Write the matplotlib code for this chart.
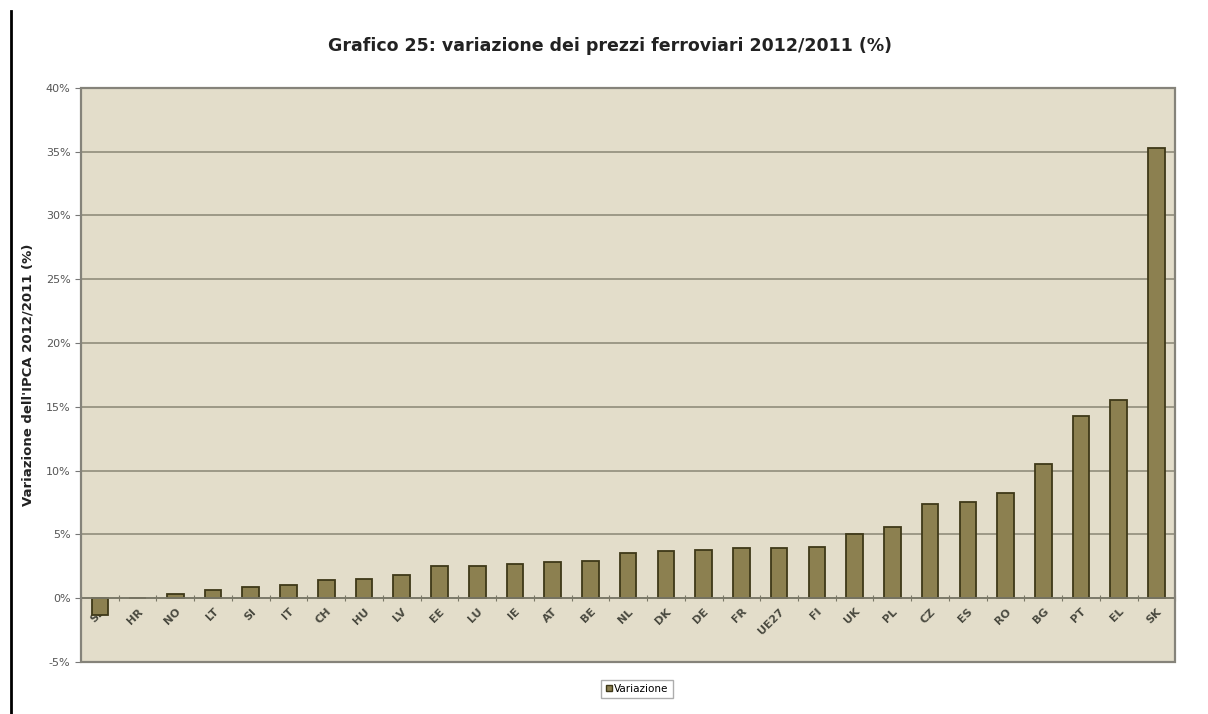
import matplotlib
matplotlib.use("Agg")
import matplotlib.pyplot as plt
from matplotlib.patches import Rectangle
from matplotlib.lines import Line2D
import numpy as np

countries = ["SE", "HR", "NO", "LT", "SI", "IT", "CH", "HU", "LV", "EE", "LU", "IE",
             "AT", "BE", "NL", "DK", "DE", "FR", "UE27", "FI", "UK", "PL", "CZ", "ES",
             "RO", "BG", "PT", "EL", "SK"]
variazione = [-1.3, 0.0, 0.3, 0.6, 0.9, 1.0, 1.4, 1.5, 1.8, 2.5, 2.5, 2.7,
              2.8, 2.9, 3.5, 3.7, 3.8, 3.9, 3.9, 4.0, 5.0, 5.6, 7.4, 7.55,
              8.2, 10.5, 14.3, 15.5, 35.3]
y_ticks = [-5, 0, 5, 10, 15, 20, 25, 30, 35, 40]

BG = "#E3DDCA"
BAR = "#8C8050"
EDGE = "#3E3818"
GRID = "#8A8674"

fig = plt.figure(figsize=(12.08, 7.14), dpi=100)
ax = fig.add_axes([0.067, 0.073, 0.906, 0.804])
ax.set_facecolor(BG)

x = np.arange(len(countries))
ax.bar(x, variazione, width=0.44, color=BAR, edgecolor=EDGE, linewidth=1.3, zorder=3)

ax.set_xlim(-0.5, len(countries) - 0.5)
ax.set_ylim(-5, 40)
ax.set_yticks(y_ticks)
ax.set_yticklabels([f"{v}%" for v in y_ticks], fontsize=8, color="#555555")
ax.yaxis.grid(True, color=GRID, linewidth=1.1, zorder=1)
ax.tick_params(axis="y", length=4, color="#777777", width=0.8)

# x axis sits on the zero line
ax.spines["bottom"].set_position(("data", 0))
ax.spines["bottom"].set_color("#7A7868")
ax.spines["bottom"].set_linewidth(1.3)
ax.spines["bottom"].set_zorder(4)
ax.set_xticks(np.arange(len(countries) + 1) - 0.5)
ax.set_xticklabels([])
ax.set_xticks(x, minor=True)
ax.set_xticklabels(countries, minor=True, rotation=45, ha="right",
                   rotation_mode="anchor", fontsize=8, fontweight="bold",
                   color="#4A4A40")
ax.tick_params(axis="x", which="major", direction="inout", length=5, color="#7A7868")
ax.tick_params(axis="x", which="minor", length=0, pad=6)

for s in ["top", "right", "left"]:
    ax.spines[s].set_visible(False)
ax.add_patch(Rectangle((0, 0), 1, 1, transform=ax.transAxes, fill=False,
                       edgecolor="#85837A", linewidth=1.6, zorder=5, clip_on=False))

ax.set_ylabel("Variazione dell'IPCA 2012/2011 (%)", fontsize=9.5, fontweight="bold",
              labelpad=8, color="#222222")
fig.text(0.505, 0.935, "Grafico 25: variazione dei prezzi ferroviari 2012/2011 (%)",
         ha="center", va="center", fontsize=12.5, fontweight="bold", color="#222222")

handle = Line2D([], [], marker="s", linestyle="none", markersize=5,
                markerfacecolor=BAR, markeredgecolor=EDGE)
fig.legend([handle], ["Variazione"], loc="center", bbox_to_anchor=(0.527, 0.035),
           fontsize=7.5, frameon=True, fancybox=False, edgecolor="#999999",
           handletextpad=0.1, borderpad=0.4, handlelength=0.8)

# page border line on the left
fig.add_artist(Line2D([0.009, 0.009], [0.0, 0.985], transform=fig.transFigure,
                      color="black", linewidth=2))

fig.savefig("out.png", dpi=100, facecolor="white")
